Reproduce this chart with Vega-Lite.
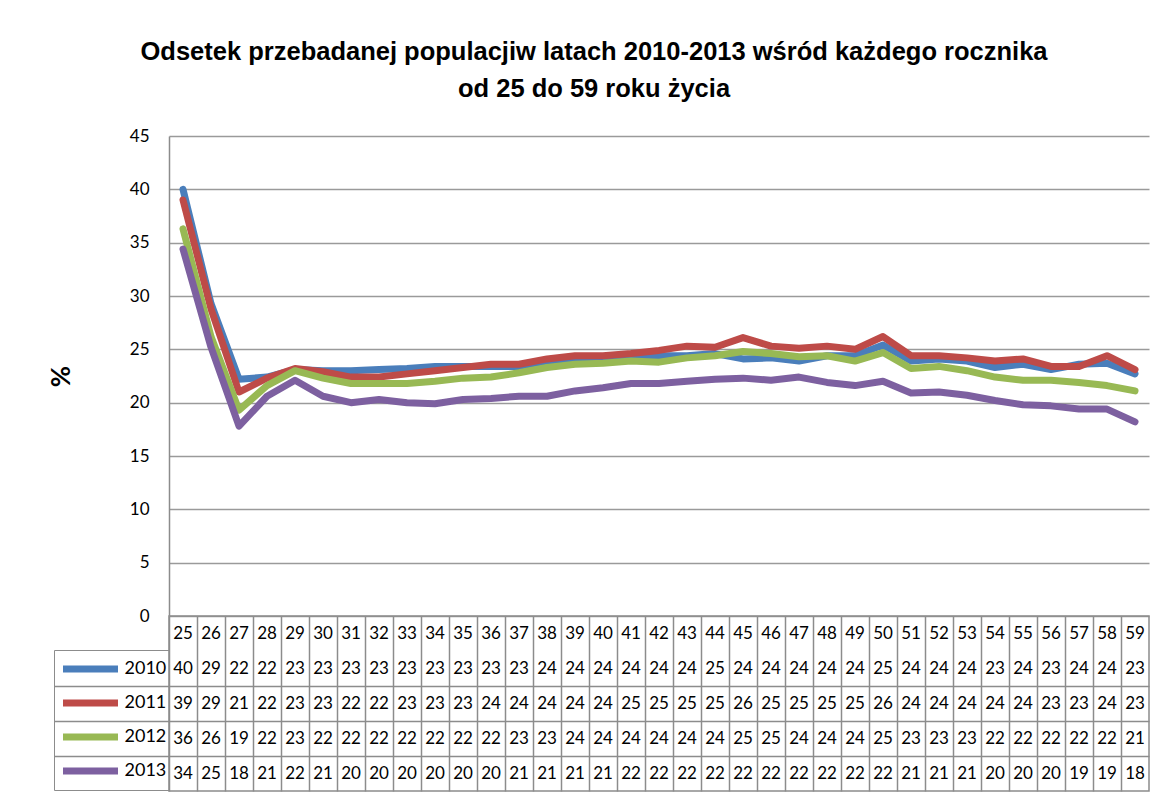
{
  "$schema": "https://vega.github.io/schema/vega-lite/v6.json",
  "background": "white",
  "padding": {"left": 48, "top": 39, "right": 5, "bottom": 0},
  "config": {"font": "Lato", "view": {"stroke": null}},
  "title": {
    "text": ["Odsetek przebadanej populacjiw latach 2010-2013 wśród każdego rocznika", "od 25 do 59 roku życia"],
    "font": "Liberation Sans", "fontSize": 25.5, "fontWeight": "bold", "color": "black",
    "anchor": "middle", "frame": "bounds", "lineHeight": 37, "offset": 25, "dx": -5
  },
  "datasets": {
    "d": [
      {"age":25,"year":"2010","v":40.0},{"age":26,"year":"2010","v":29.3},{"age":27,"year":"2010","v":22.2},{"age":28,"year":"2010","v":22.4},{"age":29,"year":"2010","v":23.1},{"age":30,"year":"2010","v":23.0},{"age":31,"year":"2010","v":23.0},{"age":32,"year":"2010","v":23.1},{"age":33,"year":"2010","v":23.2},{"age":34,"year":"2010","v":23.4},{"age":35,"year":"2010","v":23.4},{"age":36,"year":"2010","v":23.4},{"age":37,"year":"2010","v":23.4},{"age":38,"year":"2010","v":23.9},{"age":39,"year":"2010","v":24.1},{"age":40,"year":"2010","v":24.3},{"age":41,"year":"2010","v":24.4},{"age":42,"year":"2010","v":24.4},{"age":43,"year":"2010","v":24.4},{"age":44,"year":"2010","v":24.6},{"age":45,"year":"2010","v":24.1},{"age":46,"year":"2010","v":24.2},{"age":47,"year":"2010","v":23.9},{"age":48,"year":"2010","v":24.4},{"age":49,"year":"2010","v":24.4},{"age":50,"year":"2010","v":25.4},{"age":51,"year":"2010","v":23.9},{"age":52,"year":"2010","v":24.1},{"age":53,"year":"2010","v":23.9},{"age":54,"year":"2010","v":23.3},{"age":55,"year":"2010","v":23.6},{"age":56,"year":"2010","v":23.1},{"age":57,"year":"2010","v":23.6},{"age":58,"year":"2010","v":23.7},{"age":59,"year":"2010","v":22.7},
      {"age":25,"year":"2011","v":39.0},{"age":26,"year":"2011","v":28.8},{"age":27,"year":"2011","v":21.0},{"age":28,"year":"2011","v":22.3},{"age":29,"year":"2011","v":23.2},{"age":30,"year":"2011","v":22.9},{"age":31,"year":"2011","v":22.4},{"age":32,"year":"2011","v":22.4},{"age":33,"year":"2011","v":22.7},{"age":34,"year":"2011","v":23.0},{"age":35,"year":"2011","v":23.3},{"age":36,"year":"2011","v":23.6},{"age":37,"year":"2011","v":23.6},{"age":38,"year":"2011","v":24.1},{"age":39,"year":"2011","v":24.4},{"age":40,"year":"2011","v":24.4},{"age":41,"year":"2011","v":24.6},{"age":42,"year":"2011","v":24.9},{"age":43,"year":"2011","v":25.3},{"age":44,"year":"2011","v":25.2},{"age":45,"year":"2011","v":26.1},{"age":46,"year":"2011","v":25.3},{"age":47,"year":"2011","v":25.1},{"age":48,"year":"2011","v":25.3},{"age":49,"year":"2011","v":25.0},{"age":50,"year":"2011","v":26.2},{"age":51,"year":"2011","v":24.4},{"age":52,"year":"2011","v":24.4},{"age":53,"year":"2011","v":24.2},{"age":54,"year":"2011","v":23.9},{"age":55,"year":"2011","v":24.1},{"age":56,"year":"2011","v":23.4},{"age":57,"year":"2011","v":23.4},{"age":58,"year":"2011","v":24.4},{"age":59,"year":"2011","v":23.1},
      {"age":25,"year":"2012","v":36.3},{"age":26,"year":"2012","v":26.2},{"age":27,"year":"2012","v":19.3},{"age":28,"year":"2012","v":21.6},{"age":29,"year":"2012","v":23.0},{"age":30,"year":"2012","v":22.3},{"age":31,"year":"2012","v":21.8},{"age":32,"year":"2012","v":21.8},{"age":33,"year":"2012","v":21.8},{"age":34,"year":"2012","v":22.0},{"age":35,"year":"2012","v":22.3},{"age":36,"year":"2012","v":22.4},{"age":37,"year":"2012","v":22.8},{"age":38,"year":"2012","v":23.3},{"age":39,"year":"2012","v":23.6},{"age":40,"year":"2012","v":23.7},{"age":41,"year":"2012","v":23.9},{"age":42,"year":"2012","v":23.8},{"age":43,"year":"2012","v":24.2},{"age":44,"year":"2012","v":24.4},{"age":45,"year":"2012","v":24.8},{"age":46,"year":"2012","v":24.6},{"age":47,"year":"2012","v":24.3},{"age":48,"year":"2012","v":24.4},{"age":49,"year":"2012","v":23.9},{"age":50,"year":"2012","v":24.7},{"age":51,"year":"2012","v":23.2},{"age":52,"year":"2012","v":23.4},{"age":53,"year":"2012","v":23.0},{"age":54,"year":"2012","v":22.4},{"age":55,"year":"2012","v":22.1},{"age":56,"year":"2012","v":22.1},{"age":57,"year":"2012","v":21.9},{"age":58,"year":"2012","v":21.6},{"age":59,"year":"2012","v":21.1},
      {"age":25,"year":"2013","v":34.4},{"age":26,"year":"2013","v":25.2},{"age":27,"year":"2013","v":17.8},{"age":28,"year":"2013","v":20.6},{"age":29,"year":"2013","v":22.1},{"age":30,"year":"2013","v":20.6},{"age":31,"year":"2013","v":20.0},{"age":32,"year":"2013","v":20.3},{"age":33,"year":"2013","v":20.0},{"age":34,"year":"2013","v":19.9},{"age":35,"year":"2013","v":20.3},{"age":36,"year":"2013","v":20.4},{"age":37,"year":"2013","v":20.6},{"age":38,"year":"2013","v":20.6},{"age":39,"year":"2013","v":21.1},{"age":40,"year":"2013","v":21.4},{"age":41,"year":"2013","v":21.8},{"age":42,"year":"2013","v":21.8},{"age":43,"year":"2013","v":22.0},{"age":44,"year":"2013","v":22.2},{"age":45,"year":"2013","v":22.3},{"age":46,"year":"2013","v":22.1},{"age":47,"year":"2013","v":22.4},{"age":48,"year":"2013","v":21.9},{"age":49,"year":"2013","v":21.6},{"age":50,"year":"2013","v":22.0},{"age":51,"year":"2013","v":20.9},{"age":52,"year":"2013","v":21.0},{"age":53,"year":"2013","v":20.7},{"age":54,"year":"2013","v":20.2},{"age":55,"year":"2013","v":19.8},{"age":56,"year":"2013","v":19.7},{"age":57,"year":"2013","v":19.4},{"age":58,"year":"2013","v":19.4},{"age":59,"year":"2013","v":18.2}
    ]
  },
  "spacing": 0,
  "bounds": "flush",
  "vconcat": [
    {
      "width": 980,
      "height": 480,
      "data": {"name": "d"},
      "mark": {"type": "line", "strokeWidth": 7, "strokeCap": "round", "strokeJoin": "round"},
      "encoding": {
        "x": {"field": "age", "type": "ordinal", "axis": null, "scale": {"type": "point", "padding": 0.5}},
        "y": {
          "field": "v", "type": "quantitative",
          "scale": {"domain": [0, 45], "nice": false},
          "axis": {
            "values": [0, 5, 10, 15, 20, 25, 30, 35, 40, 45],
            "title": "%", "titleFontSize": 26, "titleFontWeight": "bold", "titleColor": "black", "titlePadding": 55,
            "labelFontSize": 17, "labelColor": "black", "labelPadding": 20,
            "ticks": false, "domain": true, "domainColor": "#8c8c8c", "domainWidth": 1.5,
            "grid": true, "gridColor": "#9a9a9a", "gridWidth": 1.5
          }
        },
        "color": {
          "field": "year", "type": "nominal",
          "scale": {"domain": ["2010", "2011", "2012", "2013"], "range": ["#4A7EBB", "#BE4B48", "#98B954", "#7D60A0"]},
          "legend": {
            "orient": "none", "legendX": -115, "legendY": 514, "title": null, "direction": "vertical",
            "symbolType": "stroke", "symbolStrokeWidth": 7, "symbolSize": 3025, "symbolOffset": 3.5,
            "clipHeight": 34, "rowPadding": 0, "padding": 2,
            "labelFontSize": 18, "labelColor": "black", "labelOffset": 3,
            "strokeColor": "#8c8c8c"
          }
        }
      }
    },
    {
      "width": 980,
      "height": 175,
      "data": {"name": "d"},
      "view": {"stroke": "#8c8c8c", "strokeWidth": 1.5},
      "encoding": {
        "x": {
          "field": "age", "type": "ordinal",
          "scale": {"type": "band", "paddingInner": 0, "paddingOuter": 0},
          "axis": {"title": null, "labels": false, "ticks": false, "domain": false, "grid": true, "bandPosition": 0, "gridColor": "#8c8c8c", "gridWidth": 1.5}
        }
      },
      "layer": [
        {
          "mark": {"type": "text", "fontSize": 17, "color": "black"},
          "encoding": {
            "y": {
              "field": "year", "type": "ordinal",
              "scale": {"type": "band", "domain": ["age", "2010", "2011", "2012", "2013"], "paddingInner": 0, "paddingOuter": 0},
              "axis": {"title": null, "labels": false, "domain": false, "values": ["2011", "2012", "2013"], "bandPosition": 0, "ticks": true, "tickSize": 115, "tickColor": "#8c8c8c", "tickWidth": 1.5, "grid": true, "gridColor": "#8c8c8c", "gridWidth": 1.5}
            },
            "text": {"field": "v", "type": "quantitative", "format": ".0f"}
          }
        },
        {
          "transform": [{"filter": "datum.year == '2010'"}],
          "mark": {"type": "text", "fontSize": 17, "color": "black"},
          "encoding": {
            "y": {"datum": "age", "type": "ordinal"},
            "text": {"field": "age", "type": "ordinal"}
          }
        }
      ]
    }
  ]
}
